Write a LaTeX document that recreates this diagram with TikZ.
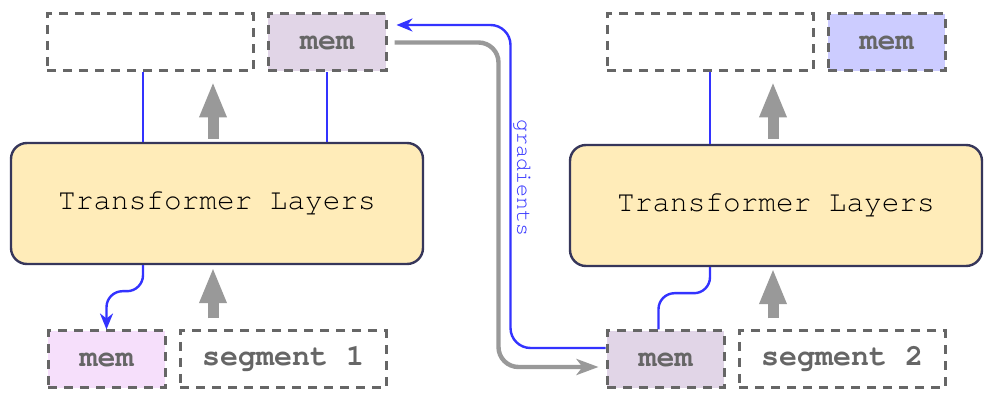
\documentclass[tikz,border=0pt]{standalone}
\usepackage{fontspec}
\setmonofont{TeX Gyre Cursor}
\usetikzlibrary{arrows.meta,calc}
\definecolor{dashgray}{HTML}{666666}
\definecolor{arrowgray}{HTML}{999999}
\definecolor{gradblue}{HTML}{3333FF}
\definecolor{layerfill}{HTML}{FFECB9}
\definecolor{layerdraw}{HTML}{36365A}
\definecolor{memlilac}{HTML}{E1D5E7}
\definecolor{mempink}{HTML}{F6DFFB}
\definecolor{memblue}{HTML}{CCCCFF}
\begin{document}
\begin{tikzpicture}[x=0.5pt,y=-0.5pt,
    slot/.style={draw=dashgray,line width=1.5pt,dash pattern=on 4.5pt off 3.5pt,minimum height=28.5pt,inner sep=0pt,text=dashgray,font=\ttfamily\bfseries\fontsize{15}{18}\selectfont},
    layers/.style={draw=layerdraw,fill=layerfill,line width=1.2pt,rounded corners=8pt,minimum width=206pt,minimum height=60.5pt,font=\ttfamily\fontsize{14.7}{17}\selectfont},
    blueline/.style={draw=gradblue,line width=1.2pt},
    bluearrow/.style={blueline,-{Stealth[length=8pt,width=6.5pt,inset=2.5pt]}},
    grayarrow/.style={draw=arrowgray,line width=2.2pt,-{Stealth[length=11pt,width=8pt,inset=3pt]}},
    fatarrow/.style={draw=arrowgray,line width=5.5pt,-{Triangle[length=18pt,width=12.5pt]}}]
  \fill[white] (0,0) rectangle (1002,405);
  \useasboundingbox (0,0) rectangle (1002,405);
  % memory and segment slots
  \foreach \n/\x/\y/\w/\c/\t in {top1/150/42.5/103/white/{},memtop1/327/42.5/59/memlilac/mem,membot1/106.5/359.5/58.5/mempink/mem,seg1/283/359.5/103/white/segment 1,
      top2/710/42.5/103/white/{},memtop2/886.5/42.5/58.5/memblue/mem,membot2/665.5/359.5/58.5/memlilac/mem,seg2/842/359.5/103/white/segment 2}
    \node[slot,fill=\c,minimum width=\w pt] (\n) at (\x,\y) {\t};
  \node[layers] (tf1) at (217,203.5) {Transformer Layers};
  \node[layers] (tf2) at (776,205.5) {Transformer Layers};
  % first segment
  \draw[blueline] ($(top1.south)+(-7,0)$) -- ($(top1.south |- tf1.north)+(-7,0)$);
  \draw[blueline] (memtop1.south) -- (memtop1.south |- tf1.north);
  \draw[fatarrow] ($(tf1.north)+(-4,-3)$) -- ($(top1.south -| tf1.north)+(-4,9)$);
  \draw[fatarrow] ($(seg1.north -| tf1.south)+(-4,-11)$) -- ($(tf1.south)+(-4,2)$);
  \draw[bluearrow,rounded corners=8] ($(tf1.south)+(-74,0)$) -- ++(0,26) -| (membot1.north);
  % second segment
  \draw[blueline] (top2.south) -- (top2.south |- tf2.north);
  \draw[fatarrow] ($(tf2.north)+(-3,-5)$) -- ($(top2.south -| tf2.north)+(-3,9)$);
  \draw[fatarrow] ($(seg2.north -| tf2.south)+(-3,-11)$) -- ($(tf2.south)+(-3,1)$);
  \draw[blueline,rounded corners=8] (tf2.south -| top2.south) -- ++(0,26) -| ($(membot2.north)+(-7,0)$);
  % memory hand-over and gradients
  \draw[grayarrow,rounded corners=10] ($(memtop1.east)+(7,0)$) -- ++(104,0) |- ($(membot2.west)+(-7,7.5)$);
  \draw[bluearrow,rounded corners=10] ($(membot2.west)+(0,-11.5)$) -- ++(-95,0) |- ($(memtop1.east)+(9,-17.5)$);
  \node[text=gradblue,rotate=-90,font=\ttfamily\fontsize{10.8}{13}\selectfont] (grad) at (522,178) {gradients};
\end{tikzpicture}
\end{document}
